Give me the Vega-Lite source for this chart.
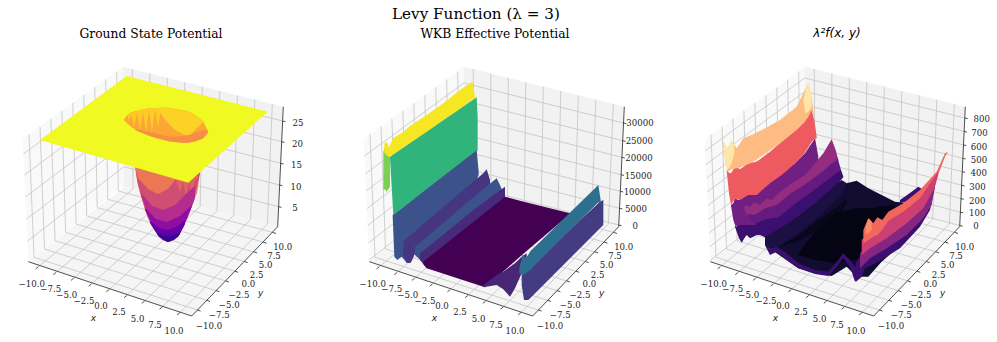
{"$schema":"https://vega.github.io/schema/vega-lite/v6.json","padding":0,"background":"white","bounds":"flush","spacing":26,
"title":{"text":"Levy Function (λ = 3)","font":"DejaVu Serif","fontSize":15.2,"fontWeight":"normal","color":"#000","anchor":"start","offset":-22,"dx":392},
"datasets":{
"panes":[{"p":"L","x":22.7,"y":139.3,"y2":139.3},{"p":"L","x":28.3,"y":135.3,"y2":261.7},{"p":"L","x":122.7,"y":66.7,"y2":185.7},{"p":"L","x":124,"y":186,"y2":186.7},
{"p":"R","x":122.7,"y":66.7,"y2":66.7},{"p":"R","x":124,"y":67,"y2":186.7},{"p":"R","x":277.7,"y":105.3,"y2":226.7},{"p":"R","x":283.3,"y":106.7,"y2":106.7},
{"p":"F","x":28.3,"y":261.7,"y2":261.7},{"p":"F","x":124,"y":186.7,"y2":293.5},{"p":"F","x":191.7,"y":204.3,"y2":316},{"p":"F","x":277.7,"y":226.7,"y2":226.7}],
"grid":[{"g":"x0","x":38.3,"y":266.7},{"g":"x0","x":133,"y":189},{"g":"x0","x":132.3,"y":69.1},{"g":"x1","x":56,"y":272.5},{"g":"x1","x":149.8,"y":193.4},{"g":"x1","x":149.8,"y":73.5},{"g":"x2","x":73.7,"y":278.2},{"g":"x2","x":166.6,"y":197.7},{"g":"x2","x":167.3,"y":77.8},{"g":"x3","x":91.4,"y":284},{"g":"x3","x":183.4,"y":202.1},{"g":"x3","x":184.8,"y":82.2},{"g":"x4","x":109.1,"y":289.7},{"g":"x4","x":200.2,"y":206.5},{"g":"x4","x":202.3,"y":86.5},{"g":"x5","x":126.8,"y":295.5},{"g":"x5","x":217,"y":210.9},{"g":"x5","x":219.8,"y":90.9},{"g":"x6","x":144.5,"y":301.2},{"g":"x6","x":233.8,"y":215.2},{"g":"x6","x":237.3,"y":95.3},{"g":"x7","x":162.2,"y":307},{"g":"x7","x":250.6,"y":219.6},{"g":"x7","x":254.8,"y":99.6},{"g":"x8","x":179.9,"y":312.7},{"g":"x8","x":267.4,"y":224},{"g":"x8","x":272.3,"y":104},
{"g":"y0","x":197.3,"y":310},{"g":"y0","x":34,"y":257.3},{"g":"y0","x":29,"y":134.3},{"g":"y1","x":206.7,"y":300.3},{"g":"y1","x":44.5,"y":249},{"g":"y1","x":40,"y":126.5},{"g":"y2","x":216.1,"y":290.6},{"g":"y2","x":55.1,"y":240.7},{"g":"y2","x":50.9,"y":118.7},{"g":"y3","x":225.6,"y":280.9},{"g":"y3","x":65.6,"y":232.4},{"g":"y3","x":61.9,"y":110.8},{"g":"y4","x":235,"y":271.2},{"g":"y4","x":76.2,"y":224.1},{"g":"y4","x":72.8,"y":103},{"g":"y5","x":244.4,"y":261.5},{"g":"y5","x":86.7,"y":215.9},{"g":"y5","x":83.8,"y":95.2},{"g":"y6","x":253.8,"y":251.8},{"g":"y6","x":97.2,"y":207.6},{"g":"y6","x":94.8,"y":87.3},{"g":"y7","x":263.2,"y":242.1},{"g":"y7","x":107.8,"y":199.3},{"g":"y7","x":105.7,"y":79.5},{"g":"y8","x":272.7,"y":232.4},{"g":"y8","x":118.3,"y":191},{"g":"y8","x":116.7,"y":71.7}],
"axes":[{"g":"a","x":28.3,"y":261.7},{"g":"a","x":191.7,"y":316},{"g":"b","x":191.7,"y":316},{"g":"b","x":277.7,"y":226.7},{"g":"c","x":277.7,"y":226.7},{"g":"c","x":283.3,"y":106.7},
{"g":"t0","x":38.3,"y":266.7},{"g":"t0","x":35.6,"y":268.9},{"g":"t1","x":56,"y":272.5},{"g":"t1","x":53.3,"y":274.7},{"g":"t2","x":73.7,"y":278.2},{"g":"t2","x":71,"y":280.4},{"g":"t3","x":91.4,"y":284},{"g":"t3","x":88.7,"y":286.2},{"g":"t4","x":109.1,"y":289.7},{"g":"t4","x":106.4,"y":291.9},{"g":"t5","x":126.8,"y":295.5},{"g":"t5","x":124.1,"y":297.7},{"g":"t6","x":144.5,"y":301.2},{"g":"t6","x":141.8,"y":303.4},{"g":"t7","x":162.2,"y":307},{"g":"t7","x":159.5,"y":309.2},{"g":"t8","x":179.9,"y":312.7},{"g":"t8","x":177.2,"y":314.9},
{"g":"u0","x":197.3,"y":310},{"g":"u0","x":200.6,"y":311.1},{"g":"u1","x":206.7,"y":300.3},{"g":"u1","x":210,"y":301.4},{"g":"u2","x":216.1,"y":290.6},{"g":"u2","x":219.4,"y":291.7},{"g":"u3","x":225.6,"y":280.9},{"g":"u3","x":228.9,"y":282},{"g":"u4","x":235,"y":271.2},{"g":"u4","x":238.3,"y":272.3},{"g":"u5","x":244.4,"y":261.5},{"g":"u5","x":247.7,"y":262.6},{"g":"u6","x":253.8,"y":251.8},{"g":"u6","x":257.1,"y":252.9},{"g":"u7","x":263.2,"y":242.1},{"g":"u7","x":266.5,"y":243.2},{"g":"u8","x":272.7,"y":232.4},{"g":"u8","x":276,"y":233.5}],
"labels":[{"t":"−10.0","x":31.7,"y":284},{"t":"−7.5","x":50.7,"y":289.3},{"t":"−5.0","x":66.7,"y":295},{"t":"−2.5","x":84,"y":300.7},{"t":"0.0","x":101,"y":306.3},{"t":"2.5","x":119,"y":312},{"t":"5.0","x":137.7,"y":318.7},{"t":"7.5","x":155,"y":325},{"t":"10.0","x":174,"y":330.7},
{"t":"−10.0","x":209,"y":325.7},{"t":"−7.5","x":219.3,"y":315.3},{"t":"−5.0","x":229.3,"y":305},{"t":"−2.5","x":239,"y":294.7},{"t":"0.0","x":248.3,"y":284.3},{"t":"2.5","x":256.7,"y":274.7},{"t":"5.0","x":265.7,"y":265.3},{"t":"7.5","x":274,"y":255.7},{"t":"10.0","x":282.7,"y":246.7}],
"names":[{"t":"x","x":93.3,"y":318.3},{"t":"y","x":260.7,"y":293.3}],
"zg1":[{"g":1,"x":23.4,"y":153.9},{"g":1,"x":122.9,"y":81},{"g":1,"x":282.6,"y":121},{"g":2,"x":24.4,"y":175},{"g":2,"x":123.1,"y":101.7},{"g":2,"x":281.6,"y":141.7},{"g":3,"x":25.4,"y":197},{"g":3,"x":123.3,"y":123.3},{"g":3,"x":280.6,"y":163.3},{"g":4,"x":26.4,"y":219.2},{"g":4,"x":123.5,"y":145},{"g":4,"x":279.6,"y":185},{"g":5,"x":27.4,"y":241.2},{"g":5,"x":123.8,"y":166.7},{"g":5,"x":278.6,"y":206.7}],
"zt1":[{"g":1,"x":282.6,"y":121},{"g":1,"x":285.5,"y":121.7},{"g":2,"x":281.6,"y":141.7},{"g":2,"x":284.5,"y":142.4},{"g":3,"x":280.6,"y":163.3},{"g":3,"x":283.5,"y":164},{"g":4,"x":279.6,"y":185},{"g":4,"x":282.5,"y":185.7},{"g":5,"x":278.6,"y":206.7},{"g":5,"x":281.5,"y":207.4}],
"zl1":[{"t":"25","x":298,"y":123},{"t":"20","x":297.5,"y":144},{"t":"15","x":296.5,"y":165},{"t":"10","x":296,"y":186.5},{"t":"5","x":295,"y":208}],
"zg2":[{"g":1,"x":23.5,"y":155.9},{"g":1,"x":122.9,"y":83},{"g":1,"x":282.5,"y":123},{"g":2,"x":24.3,"y":173.9},{"g":2,"x":123.1,"y":100.7},{"g":2,"x":281.7,"y":140.7},{"g":3,"x":25.1,"y":190.9},{"g":3,"x":123.2,"y":117.3},{"g":3,"x":280.9,"y":157.3},{"g":4,"x":25.9,"y":208.6},{"g":4,"x":123.4,"y":134.7},{"g":4,"x":280.1,"y":174.7},{"g":5,"x":26.7,"y":225.5},{"g":5,"x":123.6,"y":151.3},{"g":5,"x":279.3,"y":191.3},{"g":6,"x":27.5,"y":242.9},{"g":6,"x":123.8,"y":168.3},{"g":6,"x":278.5,"y":208.3},{"g":7,"x":28.3,"y":259.9},{"g":7,"x":124,"y":185},{"g":7,"x":277.7,"y":225}],
"zt2":[{"g":1,"x":282.5,"y":123},{"g":1,"x":285.4,"y":123.7},{"g":2,"x":281.7,"y":140.7},{"g":2,"x":284.6,"y":141.4},{"g":3,"x":280.9,"y":157.3},{"g":3,"x":283.8,"y":158},{"g":4,"x":280.1,"y":174.7},{"g":4,"x":283,"y":175.4},{"g":5,"x":279.3,"y":191.3},{"g":5,"x":282.2,"y":192},{"g":6,"x":278.5,"y":208.3},{"g":6,"x":281.4,"y":209},{"g":7,"x":277.7,"y":225},{"g":7,"x":280.6,"y":225.7}],
"zl2":[{"t":"30000","x":299,"y":123.3},{"t":"25000","x":298.3,"y":141.3},{"t":"20000","x":298,"y":158.3},{"t":"15000","x":297.3,"y":175.7},{"t":"10000","x":296.3,"y":192.3},{"t":"5000","x":295,"y":209},{"t":"0","x":294.3,"y":225.7}],
"zg3":[{"g":1,"x":23.2,"y":150.8},{"g":1,"x":122.8,"y":78},{"g":1,"x":282.8,"y":118},{"g":2,"x":23.9,"y":164.5},{"g":2,"x":123,"y":91.4},{"g":2,"x":282.1,"y":131.4},{"g":3,"x":24.5,"y":178.2},{"g":3,"x":123.1,"y":104.9},{"g":3,"x":281.5,"y":144.9},{"g":4,"x":25.2,"y":191.9},{"g":4,"x":123.3,"y":118.3},{"g":4,"x":280.8,"y":158.3},{"g":5,"x":25.8,"y":205.6},{"g":5,"x":123.4,"y":131.7},{"g":5,"x":280.2,"y":171.7},{"g":6,"x":26.4,"y":219.3},{"g":6,"x":123.6,"y":145.2},{"g":6,"x":279.6,"y":185.2},{"g":7,"x":27.1,"y":233},{"g":7,"x":123.7,"y":158.6},{"g":7,"x":278.9,"y":198.6},{"g":8,"x":27.7,"y":246.7},{"g":8,"x":123.8,"y":172.1},{"g":8,"x":278.3,"y":212.1},{"g":9,"x":28.3,"y":260.4},{"g":9,"x":124,"y":185.5},{"g":9,"x":277.7,"y":225.5}],
"zt3":[{"g":1,"x":282.8,"y":118},{"g":1,"x":285.7,"y":118.7},{"g":2,"x":282.1,"y":131.4},{"g":2,"x":285,"y":132.1},{"g":3,"x":281.5,"y":144.9},{"g":3,"x":284.4,"y":145.6},{"g":4,"x":280.8,"y":158.3},{"g":4,"x":283.7,"y":159},{"g":5,"x":280.2,"y":171.7},{"g":5,"x":283.1,"y":172.4},{"g":6,"x":279.6,"y":185.2},{"g":6,"x":282.5,"y":185.9},{"g":7,"x":278.9,"y":198.6},{"g":7,"x":281.8,"y":199.3},{"g":8,"x":278.3,"y":212.1},{"g":8,"x":281.2,"y":212.8},{"g":9,"x":277.7,"y":225.5},{"g":9,"x":280.6,"y":226.2}],
"zl3":[{"t":"800","x":299.7,"y":119.3},{"t":"700","x":297.5,"y":133},{"t":"600","x":297,"y":146.7},{"t":"500","x":297,"y":160},{"t":"400","x":296.7,"y":173.3},{"t":"300","x":295.5,"y":187},{"t":"200","x":295.3,"y":200.5},{"t":"100","x":295.3,"y":212.7},{"t":"0","x":294,"y":226}],
"s1":[
{"b":1,"v":0.66,"x":135,"y":150,"y2":168},{"b":1,"v":0.66,"x":137,"y":150,"y2":180},{"b":1,"v":0.66,"x":140,"y":150,"y2":193},{"b":1,"v":0.66,"x":145,"y":150,"y2":210},{"b":1,"v":0.66,"x":150,"y":150,"y2":223},{"b":1,"v":0.66,"x":155,"y":150,"y2":231},{"b":1,"v":0.66,"x":160,"y":150,"y2":238},{"b":1,"v":0.66,"x":165,"y":150,"y2":241},{"b":1,"v":0.66,"x":168,"y":150,"y2":242},{"b":1,"v":0.66,"x":172,"y":150,"y2":241},{"b":1,"v":0.66,"x":178,"y":150,"y2":237},{"b":1,"v":0.66,"x":183,"y":150,"y2":228},{"b":1,"v":0.66,"x":188,"y":150,"y2":217},{"b":1,"v":0.66,"x":193,"y":150,"y2":203},{"b":1,"v":0.66,"x":197,"y":150,"y2":193},{"b":1,"v":0.66,"x":199,"y":150,"y2":180},{"b":1,"v":0.66,"x":200,"y":150,"y2":173},
{"b":2,"v":0.52,"x":136,"y":170,"y2":172},{"b":2,"v":0.52,"x":138,"y":178,"y2":185},{"b":2,"v":0.52,"x":148,"y":189,"y2":218},{"b":2,"v":0.52,"x":158,"y":194,"y2":235},{"b":2,"v":0.52,"x":168,"y":189,"y2":242},{"b":2,"v":0.52,"x":175,"y":180,"y2":239},{"b":2,"v":0.52,"x":183,"y":176,"y2":228},{"b":2,"v":0.52,"x":193,"y":172,"y2":203},{"b":2,"v":0.52,"x":200,"y":165,"y2":173},
{"b":3,"v":0.6,"x":176,"y":176,"y2":180},{"b":3,"v":0.6,"x":180,"y":176,"y2":192},{"b":3,"v":0.6,"x":183,"y":176,"y2":181},{"b":3,"v":0.6,"x":186,"y":176,"y2":196},{"b":3,"v":0.6,"x":189,"y":176,"y2":182},{"b":3,"v":0.6,"x":192,"y":176,"y2":194},{"b":3,"v":0.6,"x":195,"y":176,"y2":180},{"b":3,"v":0.6,"x":198,"y":176,"y2":178},
{"b":4,"v":0.41,"x":141,"y":193,"y2":195},{"b":4,"v":0.41,"x":152,"y":206,"y2":226},{"b":4,"v":0.41,"x":163,"y":210,"y2":240},{"b":4,"v":0.41,"x":175,"y":205,"y2":239},{"b":4,"v":0.41,"x":187,"y":193,"y2":219},{"b":4,"v":0.41,"x":195,"y":186,"y2":198},
{"b":5,"v":0.3,"x":145,"y":208,"y2":210},{"b":5,"v":0.3,"x":156,"y":219,"y2":232},{"b":5,"v":0.3,"x":167,"y":222,"y2":242},{"b":5,"v":0.3,"x":180,"y":216,"y2":234},{"b":5,"v":0.3,"x":192,"y":205,"y2":206},
{"b":6,"v":0.18,"x":150,"y":221,"y2":223},{"b":6,"v":0.18,"x":159,"y":228,"y2":237},{"b":6,"v":0.18,"x":168,"y":230,"y2":242},{"b":6,"v":0.18,"x":178,"y":226,"y2":237},{"b":6,"v":0.18,"x":185,"y":220,"y2":224},
{"b":7,"v":0.08,"x":157,"y":233,"y2":234},{"b":7,"v":0.08,"x":163,"y":235.5,"y2":240},{"b":7,"v":0.08,"x":168,"y":236,"y2":242},{"b":7,"v":0.08,"x":174,"y":235,"y2":240},{"b":7,"v":0.08,"x":180,"y":232,"y2":234},
{"b":8,"v":1,"x":40,"y":140,"y2":140},{"b":8,"v":1,"x":126.7,"y":76,"y2":165},{"b":8,"v":1,"x":188.3,"y":91.6,"y2":182.7},{"b":8,"v":1,"x":267.7,"y":111.7,"y2":111.7},
{"b":9,"v":0.8,"x":123.5,"y":120,"y2":120},{"b":9,"v":0.8,"x":128,"y":114.5,"y2":124},{"b":9,"v":0.8,"x":132,"y":112,"y2":127.5},{"b":9,"v":0.8,"x":140,"y":110,"y2":132},{"b":9,"v":0.8,"x":147,"y":108.5,"y2":135},{"b":9,"v":0.8,"x":155,"y":108,"y2":138},{"b":9,"v":0.8,"x":167,"y":107.5,"y2":141},{"b":9,"v":0.8,"x":175,"y":109,"y2":142},{"b":9,"v":0.8,"x":187,"y":111,"y2":143},{"b":9,"v":0.8,"x":195,"y":115,"y2":141.5},{"b":9,"v":0.8,"x":203,"y":121,"y2":138.5},{"b":9,"v":0.8,"x":208.3,"y":131.7,"y2":132.5},
{"b":10,"v":0.89,"x":128,"y":114.5,"y2":122},{"b":10,"v":0.89,"x":131,"y":113,"y2":114},{"b":10,"v":0.89,"x":134,"y":112,"y2":127},{"b":10,"v":0.89,"x":137,"y":111,"y2":113},{"b":10,"v":0.89,"x":140,"y":110,"y2":130},{"b":10,"v":0.89,"x":143,"y":109.5,"y2":112},{"b":10,"v":0.89,"x":146,"y":109,"y2":132},{"b":10,"v":0.89,"x":149,"y":108.5,"y2":111},{"b":10,"v":0.89,"x":152,"y":108,"y2":132},{"b":10,"v":0.89,"x":155,"y":108,"y2":110},{"b":10,"v":0.89,"x":158,"y":108,"y2":128},{"b":10,"v":0.89,"x":161,"y":108,"y2":109},
{"b":11,"v":0.91,"x":157,"y":108,"y2":108},{"b":11,"v":0.91,"x":165,"y":107.5,"y2":120},{"b":11,"v":0.91,"x":175,"y":109,"y2":130},{"b":11,"v":0.91,"x":185,"y":111,"y2":135},{"b":11,"v":0.91,"x":190,"y":112,"y2":135.5},{"b":11,"v":0.91,"x":195,"y":115,"y2":130},{"b":11,"v":0.91,"x":203,"y":121,"y2":122},
{"b":12,"v":0.73,"x":135,"y":129,"y2":130},{"b":12,"v":0.73,"x":150,"y":132,"y2":136},{"b":12,"v":0.73,"x":170,"y":137,"y2":141.5},{"b":12,"v":0.73,"x":185,"y":136,"y2":143},{"b":12,"v":0.73,"x":195,"y":133,"y2":141.5},{"b":12,"v":0.73,"x":203,"y":130,"y2":138.5},{"b":12,"v":0.73,"x":208,"y":131,"y2":132.5}],
"s2":[
{"b":1,"v":0.65,"x":150,"y":350,"y2":352},{"b":1,"v":0.65,"x":155,"y":347,"y2":440},{"b":1,"v":0.65,"x":160,"y":343,"y2":525},{"b":1,"v":0.65,"x":410,"y":172,"y2":332},{"b":1,"v":0.65,"x":413,"y":230,"y2":332},
{"b":2,"v":0.8,"x":130,"y":335,"y2":450},{"b":2,"v":0.8,"x":135,"y":320,"y2":448},{"b":2,"v":0.8,"x":140,"y":330,"y2":455},{"b":2,"v":0.8,"x":150,"y":345,"y2":440},
{"b":3,"v":0.99,"x":133,"y":310,"y2":338},{"b":3,"v":0.99,"x":140,"y":305,"y2":345},{"b":3,"v":0.99,"x":147,"y":322,"y2":352},{"b":3,"v":0.99,"x":160,"y":293,"y2":343},{"b":3,"v":0.99,"x":185,"y":280,"y2":326},{"b":3,"v":0.99,"x":210,"y":258,"y2":309},{"b":3,"v":0.99,"x":260,"y":225,"y2":275},{"b":3,"v":0.99,"x":310,"y":190,"y2":240},{"b":3,"v":0.99,"x":360,"y":150,"y2":206},{"b":3,"v":0.99,"x":397,"y":125,"y2":178},{"b":3,"v":0.99,"x":405,"y":170,"y2":176},
{"b":4,"v":0.25,"x":158,"y":525,"y2":528},{"b":4,"v":0.25,"x":163,"y":522,"y2":650},{"b":4,"v":0.25,"x":172,"y":515.6,"y2":660},{"b":4,"v":0.25,"x":185,"y":505.5,"y2":650},{"b":4,"v":0.25,"x":200,"y":493.8,"y2":668},{"b":4,"v":0.25,"x":212,"y":484.4,"y2":668},{"b":4,"v":0.25,"x":225,"y":474,"y2":640},{"b":4,"v":0.25,"x":410,"y":331,"y2":420},{"b":4,"v":0.25,"x":416,"y":395,"y2":405},
{"b":5,"v":0.15,"x":190,"y":605,"y2":645},{"b":5,"v":0.15,"x":200,"y":595,"y2":668},{"b":5,"v":0.15,"x":212,"y":585,"y2":668},{"b":5,"v":0.15,"x":225,"y":575,"y2":640},{"b":5,"v":0.15,"x":240,"y":560,"y2":640},{"b":5,"v":0.15,"x":430,"y":400,"y2":470},{"b":5,"v":0.15,"x":440,"y":388,"y2":470},{"b":5,"v":0.15,"x":450,"y":420,"y2":470},
{"b":6,"v":0.25,"x":225,"y":620,"y2":645},{"b":6,"v":0.25,"x":235,"y":612,"y2":655},{"b":6,"v":0.25,"x":250,"y":600,"y2":668},{"b":6,"v":0.25,"x":400,"y":472,"y2":545},{"b":6,"v":0.25,"x":470,"y":415,"y2":490},{"b":6,"v":0.25,"x":480,"y":435,"y2":480},{"b":6,"v":0.25,"x":492,"y":465,"y2":468},
{"b":7,"v":0.12,"x":240,"y":640,"y2":660},{"b":7,"v":0.12,"x":260,"y":625,"y2":685},{"b":7,"v":0.12,"x":400,"y":510,"y2":590},{"b":7,"v":0.12,"x":495,"y":440,"y2":472},
{"b":8,"v":0,"x":250,"y":665,"y2":672},{"b":8,"v":0,"x":260,"y":657,"y2":685},{"b":8,"v":0,"x":435,"y":518,"y2":742},{"b":8,"v":0,"x":495,"y":470,"y2":690},{"b":8,"v":0,"x":540,"y":482,"y2":650},{"b":8,"v":0,"x":690,"y":520,"y2":522},
{"b":9,"v":0.1,"x":430,"y":735,"y2":742},{"b":9,"v":0.1,"x":470,"y":705,"y2":735},{"b":9,"v":0.1,"x":490,"y":695,"y2":748},{"b":9,"v":0.1,"x":510,"y":680,"y2":770},{"b":9,"v":0.1,"x":525,"y":670,"y2":745},{"b":9,"v":0.1,"x":545,"y":650,"y2":700},{"b":9,"v":0.1,"x":560,"y":640,"y2":650},
{"b":10,"v":0.17,"x":545,"y":700,"y2":735},{"b":10,"v":0.17,"x":552,"y":690,"y2":780},{"b":10,"v":0.17,"x":565,"y":680,"y2":780},{"b":10,"v":0.17,"x":575,"y":675,"y2":770},{"b":10,"v":0.17,"x":780,"y":485,"y2":565},{"b":10,"v":0.17,"x":790,"y":480,"y2":555},
{"b":11,"v":0.36,"x":538,"y":685,"y2":700},{"b":11,"v":0.36,"x":548,"y":645,"y2":705},{"b":11,"v":0.36,"x":558,"y":655,"y2":700},{"b":11,"v":0.36,"x":572,"y":632,"y2":690},{"b":11,"v":0.36,"x":585,"y":620,"y2":675},{"b":11,"v":0.36,"x":775,"y":435,"y2":487},{"b":11,"v":0.36,"x":782,"y":480,"y2":490}],
"s3":[
{"b":1,"v":0.33,"x":48,"y":255,"y2":257},{"b":1,"v":0.33,"x":55,"y":250,"y2":300},{"b":1,"v":0.33,"x":60,"y":235,"y2":315},{"b":1,"v":0.33,"x":70,"y":240,"y2":320},{"b":1,"v":0.33,"x":95,"y":225,"y2":320},{"b":1,"v":0.33,"x":125,"y":225,"y2":325},{"b":1,"v":0.33,"x":150,"y":195,"y2":340},{"b":1,"v":0.33,"x":195,"y":160,"y2":330},{"b":1,"v":0.33,"x":240,"y":130,"y2":290},{"b":1,"v":0.33,"x":270,"y":100,"y2":250},{"b":1,"v":0.33,"x":300,"y":55,"y2":200},{"b":1,"v":0.33,"x":310,"y":110,"y2":115},
{"b":2,"v":0.65,"x":35,"y":150,"y2":152},{"b":2,"v":0.65,"x":42,"y":158,"y2":220},{"b":2,"v":0.65,"x":48,"y":160,"y2":255},{"b":2,"v":0.65,"x":60,"y":140,"y2":235},{"b":2,"v":0.65,"x":75,"y":148,"y2":240},{"b":2,"v":0.65,"x":100,"y":130,"y2":225},{"b":2,"v":0.65,"x":125,"y":125,"y2":225},{"b":2,"v":0.65,"x":165,"y":95,"y2":190},{"b":2,"v":0.65,"x":200,"y":65,"y2":165},{"b":2,"v":0.65,"x":235,"y":35,"y2":135},{"b":2,"v":0.65,"x":265,"y":5,"y2":105},{"b":2,"v":0.65,"x":290,"y":-30,"y2":65},{"b":2,"v":0.65,"x":298,"y":0,"y2":58},{"b":2,"v":0.65,"x":305,"y":50,"y2":55},
{"b":3,"v":0.86,"x":25,"y":65,"y2":70},{"b":3,"v":0.86,"x":30,"y":75,"y2":120},{"b":3,"v":0.86,"x":38,"y":85,"y2":155},{"b":3,"v":0.86,"x":50,"y":62,"y2":148},{"b":3,"v":0.86,"x":65,"y":85,"y2":145},{"b":3,"v":0.86,"x":85,"y":55,"y2":138},{"b":3,"v":0.86,"x":110,"y":45,"y2":128},{"b":3,"v":0.86,"x":145,"y":28,"y2":105},{"b":3,"v":0.86,"x":195,"y":0,"y2":70},{"b":3,"v":0.86,"x":245,"y":-40,"y2":30},{"b":3,"v":0.86,"x":270,"y":-90,"y2":5},{"b":3,"v":0.86,"x":280,"y":-110,"y2":-10},{"b":3,"v":0.86,"x":290,"y":-70,"y2":-30},{"b":3,"v":0.86,"x":298,"y":0,"y2":1},
{"b":4,"v":0.95,"x":25,"y":65,"y2":70},{"b":4,"v":0.95,"x":30,"y":75,"y2":120},{"b":4,"v":0.95,"x":38,"y":85,"y2":150},{"b":4,"v":0.95,"x":50,"y":62,"y2":130},{"b":4,"v":0.95,"x":58,"y":75,"y2":100},
{"b":5,"v":0.95,"x":265,"y":-60,"y2":-55},{"b":5,"v":0.95,"x":272,"y":-90,"y2":-20},{"b":5,"v":0.95,"x":280,"y":-110,"y2":-25},{"b":5,"v":0.95,"x":290,"y":-70,"y2":-40},
{"b":6,"v":0.2,"x":60,"y":315,"y2":320},{"b":6,"v":0.2,"x":65,"y":320,"y2":335},{"b":6,"v":0.2,"x":72,"y":315,"y2":355},{"b":6,"v":0.2,"x":80,"y":315,"y2":368},{"b":6,"v":0.2,"x":88,"y":315,"y2":355},{"b":6,"v":0.2,"x":95,"y":315,"y2":345},{"b":6,"v":0.2,"x":105,"y":315,"y2":355},{"b":6,"v":0.2,"x":115,"y":315,"y2":350},{"b":6,"v":0.2,"x":125,"y":315,"y2":345},{"b":6,"v":0.2,"x":135,"y":315,"y2":345},
{"b":7,"v":0.09,"x":150,"y":350,"y2":375},{"b":7,"v":0.09,"x":200,"y":330,"y2":410},{"b":7,"v":0.09,"x":250,"y":300,"y2":445},{"b":7,"v":0.09,"x":300,"y":270,"y2":460},{"b":7,"v":0.09,"x":350,"y":220,"y2":468},{"b":7,"v":0.09,"x":395,"y":190,"y2":440},{"b":7,"v":0.09,"x":425,"y":182,"y2":470},{"b":7,"v":0.09,"x":460,"y":205,"y2":470},{"b":7,"v":0.09,"x":500,"y":225,"y2":425},{"b":7,"v":0.09,"x":540,"y":245,"y2":390},{"b":7,"v":0.09,"x":580,"y":250,"y2":350},
{"b":8,"v":0.42,"x":88,"y":258,"y2":270},{"b":8,"v":0.42,"x":95,"y":257,"y2":285},{"b":8,"v":0.42,"x":105,"y":260,"y2":283},{"b":8,"v":0.42,"x":118,"y":245,"y2":285},{"b":8,"v":0.42,"x":135,"y":255,"y2":277},{"b":8,"v":0.42,"x":155,"y":235,"y2":265},{"b":8,"v":0.42,"x":170,"y":240,"y2":265},{"b":8,"v":0.42,"x":190,"y":220,"y2":253},{"b":8,"v":0.42,"x":230,"y":190,"y2":222},{"b":8,"v":0.42,"x":270,"y":165,"y2":196},{"b":8,"v":0.42,"x":300,"y":130,"y2":173},{"b":8,"v":0.42,"x":325,"y":100,"y2":153},{"b":8,"v":0.42,"x":350,"y":58,"y2":133},{"b":8,"v":0.42,"x":362,"y":90,"y2":120},{"b":8,"v":0.42,"x":370,"y":120,"y2":122},
{"b":9,"v":0.3,"x":100,"y":283,"y2":290},{"b":9,"v":0.3,"x":120,"y":285,"y2":315},{"b":9,"v":0.3,"x":150,"y":265,"y2":300},{"b":9,"v":0.3,"x":185,"y":255,"y2":295},{"b":9,"v":0.3,"x":225,"y":222,"y2":265},{"b":9,"v":0.3,"x":280,"y":187,"y2":225},{"b":9,"v":0.3,"x":330,"y":148,"y2":190},{"b":9,"v":0.3,"x":368,"y":115,"y2":160},{"b":9,"v":0.3,"x":378,"y":150,"y2":153},
{"b":10,"v":0.2,"x":122,"y":312,"y2":330},{"b":10,"v":0.2,"x":135,"y":305,"y2":345},{"b":10,"v":0.2,"x":150,"y":298,"y2":352},{"b":10,"v":0.2,"x":190,"y":292,"y2":335},{"b":10,"v":0.2,"x":240,"y":252,"y2":300},{"b":10,"v":0.2,"x":300,"y":208,"y2":250},{"b":10,"v":0.2,"x":360,"y":163,"y2":205},{"b":10,"v":0.2,"x":378,"y":150,"y2":180},{"b":10,"v":0.2,"x":385,"y":170,"y2":172},
{"b":11,"v":0.12,"x":150,"y":350,"y2":375},{"b":11,"v":0.12,"x":160,"y":345,"y2":385},{"b":11,"v":0.12,"x":200,"y":322,"y2":375},{"b":11,"v":0.12,"x":250,"y":288,"y2":340},{"b":11,"v":0.12,"x":310,"y":240,"y2":290},{"b":11,"v":0.12,"x":380,"y":180,"y2":225},{"b":11,"v":0.12,"x":395,"y":190,"y2":192},
{"b":12,"v":0.05,"x":200,"y":375,"y2":378},{"b":12,"v":0.05,"x":245,"y":350,"y2":365},{"b":12,"v":0.05,"x":310,"y":300,"y2":330},{"b":12,"v":0.05,"x":370,"y":258,"y2":290},{"b":12,"v":0.05,"x":395,"y":235,"y2":250},
{"b":13,"v":0.03,"x":250,"y":400,"y2":405},{"b":13,"v":0.03,"x":300,"y":335,"y2":420},{"b":13,"v":0.03,"x":360,"y":280,"y2":430},{"b":13,"v":0.03,"x":420,"y":265,"y2":420},{"b":13,"v":0.03,"x":470,"y":265,"y2":390},{"b":13,"v":0.03,"x":540,"y":255,"y2":330},
{"b":14,"v":0.2,"x":150,"y":372,"y2":376},{"b":14,"v":0.2,"x":165,"y":385,"y2":405},{"b":14,"v":0.2,"x":185,"y":380,"y2":395},{"b":14,"v":0.2,"x":215,"y":400,"y2":420},{"b":14,"v":0.2,"x":250,"y":430,"y2":445},{"b":14,"v":0.2,"x":300,"y":450,"y2":462},{"b":14,"v":0.2,"x":340,"y":455,"y2":468},{"b":14,"v":0.2,"x":365,"y":425,"y2":440},{"b":14,"v":0.2,"x":385,"y":400,"y2":415},{"b":14,"v":0.2,"x":405,"y":420,"y2":440},{"b":14,"v":0.2,"x":420,"y":440,"y2":485},{"b":14,"v":0.2,"x":440,"y":420,"y2":470},
{"b":15,"v":0.2,"x":555,"y":240,"y2":250},{"b":15,"v":0.2,"x":590,"y":215,"y2":240},{"b":15,"v":0.2,"x":610,"y":200,"y2":225},{"b":15,"v":0.2,"x":625,"y":210,"y2":215},
{"b":16,"v":0.2,"x":423,"y":430,"y2":485},{"b":16,"v":0.2,"x":440,"y":400,"y2":470},{"b":16,"v":0.2,"x":450,"y":395,"y2":445},{"b":16,"v":0.2,"x":490,"y":370,"y2":425},{"b":16,"v":0.2,"x":555,"y":320,"y2":385},{"b":16,"v":0.2,"x":615,"y":250,"y2":320},{"b":16,"v":0.2,"x":645,"y":205,"y2":270},{"b":16,"v":0.2,"x":660,"y":190,"y2":200},
{"b":17,"v":0.38,"x":435,"y":400,"y2":445},{"b":17,"v":0.38,"x":465,"y":370,"y2":415},{"b":17,"v":0.38,"x":515,"y":335,"y2":385},{"b":17,"v":0.38,"x":575,"y":290,"y2":345},{"b":17,"v":0.38,"x":625,"y":240,"y2":295},{"b":17,"v":0.38,"x":650,"y":200,"y2":255},{"b":17,"v":0.38,"x":665,"y":160,"y2":165},
{"b":18,"v":0.55,"x":440,"y":360,"y2":405},{"b":18,"v":0.55,"x":465,"y":335,"y2":385},{"b":18,"v":0.55,"x":515,"y":300,"y2":355},{"b":18,"v":0.55,"x":575,"y":250,"y2":310},{"b":18,"v":0.55,"x":625,"y":215,"y2":265},{"b":18,"v":0.55,"x":660,"y":165,"y2":200},{"b":18,"v":0.55,"x":675,"y":140,"y2":145},
{"b":19,"v":0.68,"x":445,"y":330,"y2":370},{"b":19,"v":0.68,"x":460,"y":295,"y2":360},{"b":19,"v":0.68,"x":475,"y":310,"y2":350},{"b":19,"v":0.68,"x":487,"y":292,"y2":345},{"b":19,"v":0.68,"x":502,"y":300,"y2":330},{"b":19,"v":0.68,"x":520,"y":275,"y2":302},{"b":19,"v":0.68,"x":565,"y":250,"y2":275},{"b":19,"v":0.68,"x":615,"y":210,"y2":235},{"b":19,"v":0.68,"x":645,"y":177,"y2":190},{"b":19,"v":0.68,"x":665,"y":155,"y2":162},{"b":19,"v":0.68,"x":675,"y":133,"y2":150},{"b":19,"v":0.68,"x":690,"y":100,"y2":110},{"b":19,"v":0.68,"x":698,"y":95,"y2":96},
{"b":20,"v":0.76,"x":452,"y":320,"y2":340},{"b":20,"v":0.76,"x":460,"y":295,"y2":340},{"b":20,"v":0.76,"x":470,"y":305,"y2":330}]
},
"hconcat":[
{"width":315,"height":342,"title":{"text":"Ground State Potential","font":"DejaVu Serif","fontSize":12.3,"fontWeight":"normal","color":"#000","anchor":"middle","dx":-6.5,"offset":-40},
"resolve":{"scale":{"x":"independent","y":"independent","color":"independent"}},
"encoding":{"x":{"field":"x","type":"quantitative","axis":null,"scale":{"domain":[0,315],"nice":false}},"y":{"field":"y","type":"quantitative","axis":null,"scale":{"domain":[342,0],"nice":false}}},
"view":{"stroke":null},
"layer":[
{"data":{"name":"panes"},"mark":{"type":"area","stroke":null},"encoding":{"y2":{"field":"y2"},"color":{"field":"p","type":"nominal","legend":null,"scale":{"domain":["L","R","F"],"range":["#f9f9f9","#f2f2f2","#f5f5f5"]}}}},
{"data":{"name":"grid"},"mark":{"type":"line","color":"#c4c4c4","strokeWidth":0.8},"encoding":{"detail":{"field":"g"},"order":{"value":null}}},
{"data":{"name":"zg1"},"mark":{"type":"line","color":"#c4c4c4","strokeWidth":0.8},"encoding":{"detail":{"field":"g"},"order":{"value":null}}},
{"data":{"name":"s1"},"mark":{"type":"area","stroke":null},"encoding":{"y2":{"field":"y2"},"detail":{"field":"b"},"color":{"field":"v","type":"quantitative","legend":null,"scale":{"scheme":"plasma","domain":[0,1]}}}},
{"data":{"name":"axes"},"mark":{"type":"line","color":"#222","strokeWidth":0.8},"encoding":{"detail":{"field":"g"},"order":{"value":null}}},
{"data":{"name":"zt1"},"mark":{"type":"line","color":"#222","strokeWidth":0.8},"encoding":{"detail":{"field":"g"},"order":{"value":null}}},
{"data":{"name":"labels"},"mark":{"type":"text","font":"DejaVu Serif","fontSize":8.6,"color":"#222"},"encoding":{"text":{"field":"t"}}},
{"data":{"name":"zl1"},"mark":{"type":"text","font":"DejaVu Serif","fontSize":8.6,"color":"#222"},"encoding":{"text":{"field":"t"}}},
{"data":{"name":"names"},"mark":{"type":"text","font":"DejaVu Sans","fontSize":9,"fontStyle":"italic","color":"#222"},"encoding":{"text":{"field":"t"}}}
]},
{"width":315,"height":342,"title":{"text":"WKB Effective Potential","font":"DejaVu Serif","fontSize":12.3,"fontWeight":"normal","color":"#000","anchor":"middle","dx":-3.5,"offset":-40},
"resolve":{"scale":{"x":"independent","y":"independent","color":"independent"}},
"encoding":{"x":{"field":"x","type":"quantitative","axis":null,"scale":{"domain":[0,315],"nice":false}},"y":{"field":"y","type":"quantitative","axis":null,"scale":{"domain":[342,0],"nice":false}}},
"view":{"stroke":null},
"layer":[
{"data":{"name":"panes"},"mark":{"type":"area","stroke":null},"encoding":{"y2":{"field":"y2"},"color":{"field":"p","type":"nominal","legend":null,"scale":{"domain":["L","R","F"],"range":["#f9f9f9","#f2f2f2","#f5f5f5"]}}}},
{"data":{"name":"grid"},"mark":{"type":"line","color":"#c4c4c4","strokeWidth":0.8},"encoding":{"detail":{"field":"g"},"order":{"value":null}}},
{"data":{"name":"zg2"},"mark":{"type":"line","color":"#c4c4c4","strokeWidth":0.8},"encoding":{"detail":{"field":"g"},"order":{"value":null}}},
{"data":{"name":"s2"},"mark":{"type":"area","stroke":null},"encoding":{"x":{"field":"x","type":"quantitative","axis":null,"scale":{"domain":[3,948],"nice":false}},"y":{"field":"y","type":"quantitative","axis":null,"scale":{"domain":[906,-120],"nice":false}},"y2":{"field":"y2"},"detail":{"field":"b"},"color":{"field":"v","type":"quantitative","legend":null,"scale":{"scheme":"viridis","domain":[0,1]}}}},
{"data":{"name":"axes"},"mark":{"type":"line","color":"#222","strokeWidth":0.8},"encoding":{"detail":{"field":"g"},"order":{"value":null}}},
{"data":{"name":"zt2"},"mark":{"type":"line","color":"#222","strokeWidth":0.8},"encoding":{"detail":{"field":"g"},"order":{"value":null}}},
{"data":{"name":"labels"},"mark":{"type":"text","font":"DejaVu Serif","fontSize":8.6,"color":"#222"},"encoding":{"text":{"field":"t"}}},
{"data":{"name":"zl2"},"mark":{"type":"text","font":"DejaVu Serif","fontSize":8.6,"color":"#222"},"encoding":{"text":{"field":"t"}}},
{"data":{"name":"names"},"mark":{"type":"text","font":"DejaVu Sans","fontSize":9,"fontStyle":"italic","color":"#222"},"encoding":{"text":{"field":"t"}}}
]},
{"width":315,"height":342,"title":{"text":"λ²f(x, y)","font":"DejaVu Sans","fontSize":12,"fontStyle":"italic","fontWeight":"normal","color":"#000","anchor":"middle","dx":-2.5,"offset":-40},
"resolve":{"scale":{"x":"independent","y":"independent","color":"independent"}},
"encoding":{"x":{"field":"x","type":"quantitative","axis":null,"scale":{"domain":[0,315],"nice":false}},"y":{"field":"y","type":"quantitative","axis":null,"scale":{"domain":[342,0],"nice":false}}},
"view":{"stroke":null},
"layer":[
{"data":{"name":"panes"},"mark":{"type":"area","stroke":null},"encoding":{"y2":{"field":"y2"},"color":{"field":"p","type":"nominal","legend":null,"scale":{"domain":["L","R","F"],"range":["#f9f9f9","#f2f2f2","#f5f5f5"]}}}},
{"data":{"name":"grid"},"mark":{"type":"line","color":"#c4c4c4","strokeWidth":0.8},"encoding":{"detail":{"field":"g"},"order":{"value":null}}},
{"data":{"name":"zg3"},"mark":{"type":"line","color":"#c4c4c4","strokeWidth":0.8},"encoding":{"detail":{"field":"g"},"order":{"value":null}}},
{"data":{"name":"s3"},"mark":{"type":"area","stroke":null},"encoding":{"x":{"field":"x","type":"quantitative","axis":null,"scale":{"domain":[-99,846],"nice":false}},"y":{"field":"y","type":"quantitative","axis":null,"scale":{"domain":[666,-360],"nice":false}},"y2":{"field":"y2"},"detail":{"field":"b"},"color":{"field":"v","type":"quantitative","legend":null,"scale":{"scheme":"magma","domain":[0,1]}}}},
{"data":{"name":"axes"},"mark":{"type":"line","color":"#222","strokeWidth":0.8},"encoding":{"detail":{"field":"g"},"order":{"value":null}}},
{"data":{"name":"zt3"},"mark":{"type":"line","color":"#222","strokeWidth":0.8},"encoding":{"detail":{"field":"g"},"order":{"value":null}}},
{"data":{"name":"labels"},"mark":{"type":"text","font":"DejaVu Serif","fontSize":8.6,"color":"#222"},"encoding":{"text":{"field":"t"}}},
{"data":{"name":"zl3"},"mark":{"type":"text","font":"DejaVu Serif","fontSize":8.6,"color":"#222"},"encoding":{"text":{"field":"t"}}},
{"data":{"name":"names"},"mark":{"type":"text","font":"DejaVu Sans","fontSize":9,"fontStyle":"italic","color":"#222"},"encoding":{"text":{"field":"t"}}}
]}
]}
